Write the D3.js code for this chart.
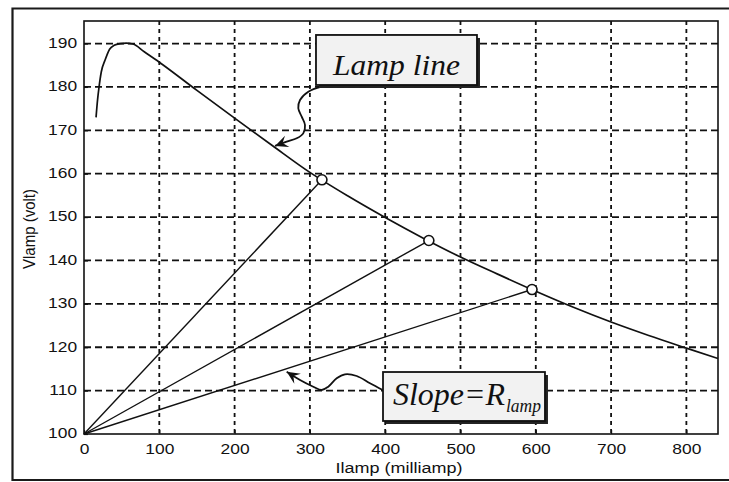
<!DOCTYPE html>
<html>
<head>
<meta charset="utf-8">
<script src="https://cdn.jsdelivr.net/npm/d3@7"></script>
<style>
  body { margin: 0; background: #fff; }
  svg { display: block; }
</style>
</head>
<body>
<svg id="chart" width="729" height="482"></svg>
<script>
// lamp line (current in mA, voltage in V)
const lampCurrent = [16, 18, 20, 23, 28, 34, 40, 48, 56, 65, 80, 100, 150, 200, 250, 300, 350, 400, 450, 500, 550, 600, 650, 700, 750, 800, 842];
const lampVoltage = [173, 177, 180, 183.5, 186.2, 188.7, 189.6, 190, 190.1, 189.9, 188.1, 185.7, 179.2, 172.8, 166.5, 160.3, 154.9, 149.9, 145.2, 140.8, 136.8, 132.9, 129.2, 125.8, 122.7, 119.8, 117.4];

// operating points, each joined to the origin by a "slope" line
const opCurrent = [316, 458, 595];
const opVoltage = [158.6, 144.6, 133.3];

const xTicks = [0, 100, 200, 300, 400, 500, 600, 700, 800];
const yTicks = [100, 110, 120, 130, 140, 150, 160, 170, 180, 190];

const xTitle = "Ilamp (milliamp)";
const yTitle = "Vlamp (volt)";

const svg = d3.select("#chart");
const plotL = 84, plotR = 718, plotT = 21, plotB = 434;

let x = d3.scaleLinear().domain([0, 842]).range([plotL, plotR]);
let y = d3.scaleLinear().domain([100, 195.2]).range([plotB, plotT]);

// outer frame (no right edge in the scan)
svg.append("path")
   .attr("d", "M729,8.5H12.5V480H729")
   .attr("fill", "none")
   .attr("stroke", "#1a1a1a")
   .attr("stroke-width", 2.2);

// grid
let grid = svg.append("g");
grid.selectAll("line.h").data(yTicks.filter(d => d > 100)).join("line")
    .attr("class", "h")
    .attr("x1", plotL).attr("x2", plotR)
    .attr("y1", d => y(d)).attr("y2", d => y(d))
    .attr("stroke", "#111").attr("stroke-width", 1.8)
    .attr("stroke-dasharray", "7,4");
grid.selectAll("line.v").data(xTicks.filter(d => d > 0)).join("line")
    .attr("class", "v")
    .attr("y1", plotT).attr("y2", plotB)
    .attr("x1", d => x(d)).attr("x2", d => x(d))
    .attr("stroke", "#111").attr("stroke-width", 1.8)
    .attr("stroke-dasharray", "4,4");

// axes
let xAxis = svg.append("g")
   .attr("transform", `translate(0,${plotB})`)
   .call(d3.axisBottom(x).tickValues(xTicks).tickSize(-4).tickPadding(9));
let yAxis = svg.append("g")
   .attr("transform", `translate(${plotL},0)`)
   .call(d3.axisLeft(y).tickValues(yTicks).tickSize(-4).tickPadding(6));

[xAxis, yAxis].forEach(a => {
  a.select(".domain").remove();
  a.selectAll(".tick line").attr("stroke", "#111").attr("stroke-width", 1.2);
  a.selectAll(".tick text")
   .attr("fill", "#111")
   .style("font-family", "'Liberation Sans', Arial, sans-serif")
   .style("font-size", "15px")
   .attr("transform", "scale(1.16,1)");
});
yAxis.selectAll(".tick text").attr("dy", "0.26em");

// plot box
svg.append("rect")
   .attr("x", plotL).attr("y", plotT)
   .attr("width", plotR - plotL).attr("height", plotB - plotT)
   .attr("fill", "none").attr("stroke", "#111").attr("stroke-width", 1.6);

// axis titles
svg.append("text")
   .attr("transform", "translate(399,473) scale(1.2,1)")
   .attr("text-anchor", "middle")
   .style("font-family", "'Liberation Sans', Arial, sans-serif")
   .style("font-size", "15px")
   .attr("fill", "#111")
   .text(xTitle);
svg.append("text")
   .attr("transform", "translate(35,229) scale(1.15,1) rotate(-90)")
   .attr("text-anchor", "middle")
   .style("font-family", "'Liberation Sans', Arial, sans-serif")
   .style("font-size", "15px")
   .attr("fill", "#111")
   .text(yTitle);

// slope lines from the origin
let ops = opCurrent.map((c, i) => ({ c: c, v: opVoltage[i] }));
svg.append("g").selectAll("line").data(ops).join("line")
   .attr("x1", x(0)).attr("y1", y(100))
   .attr("x2", d => x(d.c)).attr("y2", d => y(d.v))
   .attr("stroke", "#111").attr("stroke-width", 1.4);

// lamp line
let lampData = lampCurrent.map((c, i) => ({ c: c, v: lampVoltage[i] }));
let lampLine = d3.line().x(d => x(d.c)).y(d => y(d.v)).curve(d3.curveMonotoneX);
svg.append("path")
   .attr("d", lampLine(lampData))
   .attr("fill", "none").attr("stroke", "#111").attr("stroke-width", 1.7);

// operating point markers
svg.append("g").selectAll("circle").data(ops).join("circle")
   .attr("cx", d => x(d.c)).attr("cy", d => y(d.v))
   .attr("r", 5)
   .attr("fill", "#fff").attr("stroke", "#111").attr("stroke-width", 1.6);

// ---- annotations (placed in data units) ----
svg.append("defs").append("marker")
   .attr("id", "barb")
   .attr("viewBox", "-14 -7 16 14")
   .attr("refX", 0).attr("refY", 0)
   .attr("markerWidth", 16).attr("markerHeight", 14)
   .attr("markerUnits", "userSpaceOnUse")
   .attr("orient", "auto")
   .append("path")
   .attr("d", "M0,0L-13,-6L-8,0L-13,6Z")
   .attr("fill", "#111");

let arrowLine = d3.line().x(d => x(d[0])).y(d => y(d[1])).curve(d3.curveCatmullRom);

let lampArrow = [[315.6, 180.06], [297.9, 178.9], [286.9, 176.99], [284.6, 175.08], [289.1, 173.14],
                 [293.5, 171.23], [291.2, 169.3], [282.5, 168.16], [269.2, 167.4], [253.7, 166.4]];
let slopeArrow = [[396.7, 110.14], [379.8, 111.69], [362.2, 113.37], [346.6, 113.76], [335.6, 112.84],
                  [324.4, 110.9], [315.7, 110.14], [304.5, 110.9], [286.9, 112.45], [269.2, 114.36]];

[lampArrow, slopeArrow].forEach(a => {
  svg.append("path")
     .attr("d", arrowLine(a))
     .attr("fill", "none").attr("stroke", "#111").attr("stroke-width", 1.8)
     .attr("marker-end", "url(#barb)");
});

function box(i0, i1, v0, v1) {
  let bx = x(i0), by = y(v0), bw = x(i1) - x(i0), bh = y(v1) - y(v0);
  svg.append("rect")
     .attr("x", bx + 3).attr("y", by + 3).attr("width", bw).attr("height", bh)
     .attr("fill", "#222");
  svg.append("rect")
     .attr("x", bx).attr("y", by).attr("width", bw).attr("height", bh)
     .attr("fill", "#f2f2f2").attr("stroke", "#111").attr("stroke-width", 1.8);
  return { bx: bx, by: by };
}

let lb = box(308.1, 521.9, 191.98, 180.45);
svg.append("text")
   .attr("x", lb.bx + 17).attr("y", lb.by + 40)
   .attr("textLength", 127).attr("lengthAdjust", "spacingAndGlyphs")
   .style("font-family", "'Liberation Serif', 'Times New Roman', serif")
   .style("font-style", "italic")
   .style("font-size", "30px")
   .attr("fill", "#111")
   .text("Lamp line");

let sb = box(397.1, 612.2, 114.29, 103.0);
svg.append("text")
   .attr("x", sb.bx + 10).attr("y", sb.by + 33)
   .attr("textLength", 112).attr("lengthAdjust", "spacingAndGlyphs")
   .style("font-family", "'Liberation Serif', 'Times New Roman', serif")
   .style("font-style", "italic")
   .style("font-size", "32px")
   .attr("fill", "#111")
   .text("Slope=R");
svg.append("text")
   .attr("x", sb.bx + 123).attr("y", sb.by + 40)
   .attr("textLength", 35).attr("lengthAdjust", "spacingAndGlyphs")
   .style("font-family", "'Liberation Serif', 'Times New Roman', serif")
   .style("font-style", "italic")
   .style("font-size", "18px")
   .attr("fill", "#111")
   .text("lamp");
</script>
</body>
</html>
